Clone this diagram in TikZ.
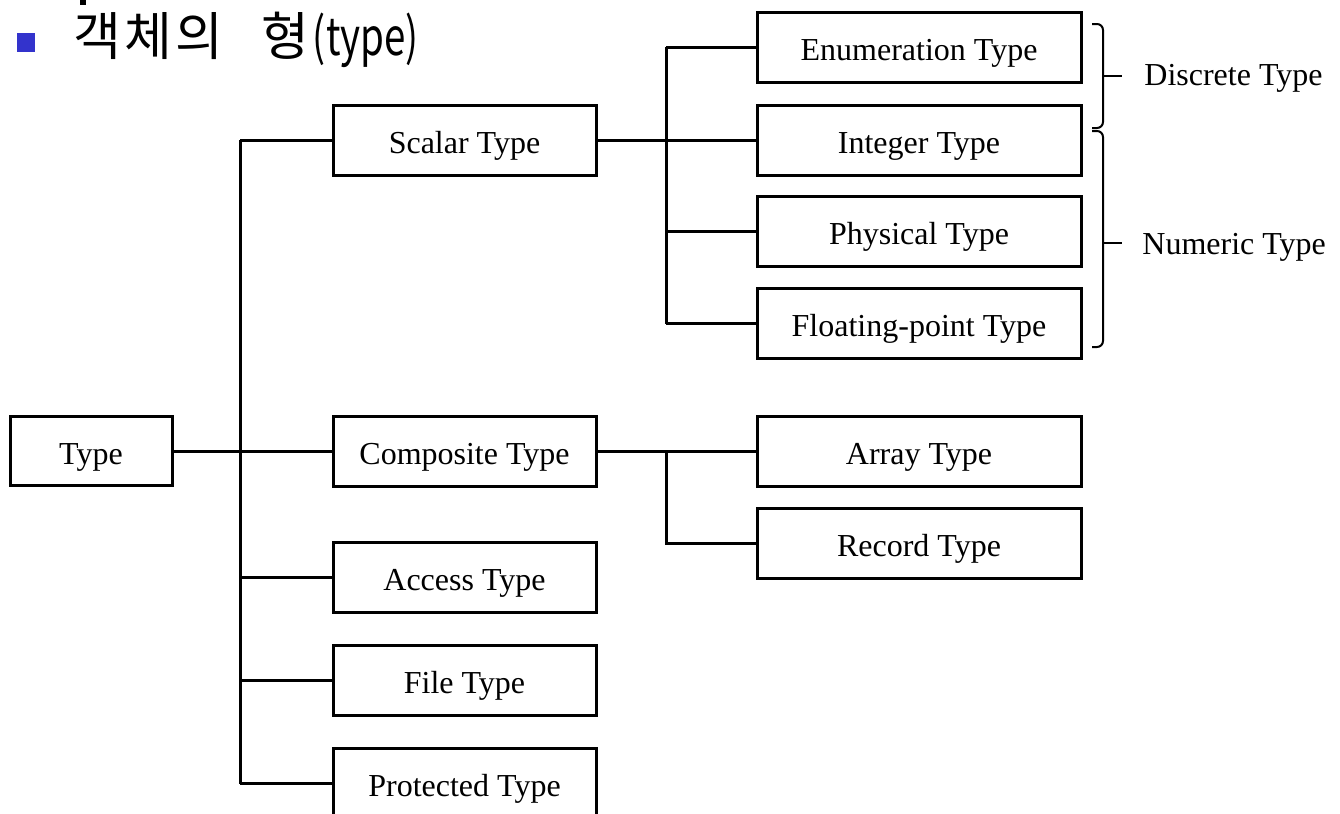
\documentclass[tikz,border=0pt]{standalone}
\usepackage{graphicx}
\usepackage{fontspec}
\setmainfont{Liberation Serif}
\newfontfamily\krfont[LetterSpace=6]{Noto Sans CJK KR}
\newfontfamily\krlat{Noto Sans CJK KR}
\definecolor{bulletblue}{RGB}{51,51,204}
\begin{document}
\begin{tikzpicture}[x=0.5pt,y=-0.5pt,
  box/.style={draw, line width=1.5pt, inner sep=0pt, font=\fontsize{16}{19}\selectfont, text height=13pt, text depth=0pt},
  typebox/.style={box, minimum width=81pt, minimum height=34.5pt},
  midbox/.style={box, minimum width=131.5pt, minimum height=35pt},
  rightbox/.style={box, minimum width=162pt, minimum height=35pt},
  conn/.style={line width=1.5pt},
  bracket/.style={line width=1pt, rounded corners=3pt},
  lbl/.style={font=\fontsize{16}{19}\selectfont, inner sep=0pt, anchor=base west}]
\useasboundingbox (0,0) rectangle (1340,814);
\clip (0,0) rectangle (1340,814);
% title
\fill (80,0) rectangle (86,5);
\fill[bulletblue] (17,33) rectangle (35,52);
\node[anchor=base west, inner sep=0pt] (title) at (73,55) {\fontsize{26}{30}\selectfont\krfont 객체의\hspace{19pt}형\krlat\hspace{2pt}\scalebox{0.74}[1]{(type)}};
% boxes
\node[typebox] (type) at (91,451) {Type};
\node[midbox] (scalar) at (464.5,140) {Scalar Type};
\node[midbox] (composite) at (464.5,451) {Composite Type};
\node[midbox] (access) at (464.5,577.5) {Access Type};
\node[midbox] (file) at (464.5,680.5) {File Type};
\node[midbox] (protected) at (464.5,783.5) {Protected Type};
\node[rightbox] (enum) at (919,47) {Enumeration Type};
\node[rightbox] (integer) at (919,140) {Integer Type};
\node[rightbox] (physical) at (919,231.5) {Physical Type};
\node[rightbox] (floating) at (919,323.5) {Floating-point Type};
\node[rightbox] (array) at (919,451) {Array Type};
\node[rightbox] (record) at (919,543) {Record Type};
% junction columns
\coordinate (t1) at (240,0);
\coordinate (s1) at (666,0);
% trunk
\draw[conn] (type.east) -- (composite.west);
\draw[conn] (scalar.west -| t1) -- (protected.west -| t1);
\draw[conn] (scalar.west -| t1) -- (scalar.west);
\draw[conn] (access.west -| t1) -- (access.west);
\draw[conn] (file.west -| t1) -- (file.west);
\draw[conn] (protected.west -| t1) -- (protected.west);
% scalar group
\draw[conn] (scalar.east) -- (integer.west);
\draw[conn] (enum.west -| s1) -- (floating.west -| s1);
\draw[conn] (enum.west -| s1) -- (enum.west);
\draw[conn] (physical.west -| s1) -- (physical.west);
\draw[conn] (floating.west -| s1) -- (floating.west);
% composite group
\draw[conn] (composite.east) -- (array.west);
\draw[conn] (array.west -| s1) -- (record.west -| s1) -- (record.west);
% brackets
\coordinate (d1) at (1092,24);
\coordinate (d2) at (1092,128);
\coordinate (dt) at (1103,76);
\coordinate (n1) at (1092,131);
\coordinate (n2) at (1092,347);
\coordinate (nt) at (1103,243);
\draw[bracket] (d1) -- (d1 -| dt) -- (d2 -| dt) -- (d2);
\draw[line width=1pt] (dt) -- ++(19,0);
\draw[bracket] (n1) -- (n1 -| nt) -- (n2 -| nt) -- (n2);
\draw[line width=1pt] (nt) -- ++(19,0);
\node[lbl] (discrete) at (1144,85) {Discrete Type};
\node[lbl] (numeric) at (1142,254) {Numeric Type};
\end{tikzpicture}
\end{document}
